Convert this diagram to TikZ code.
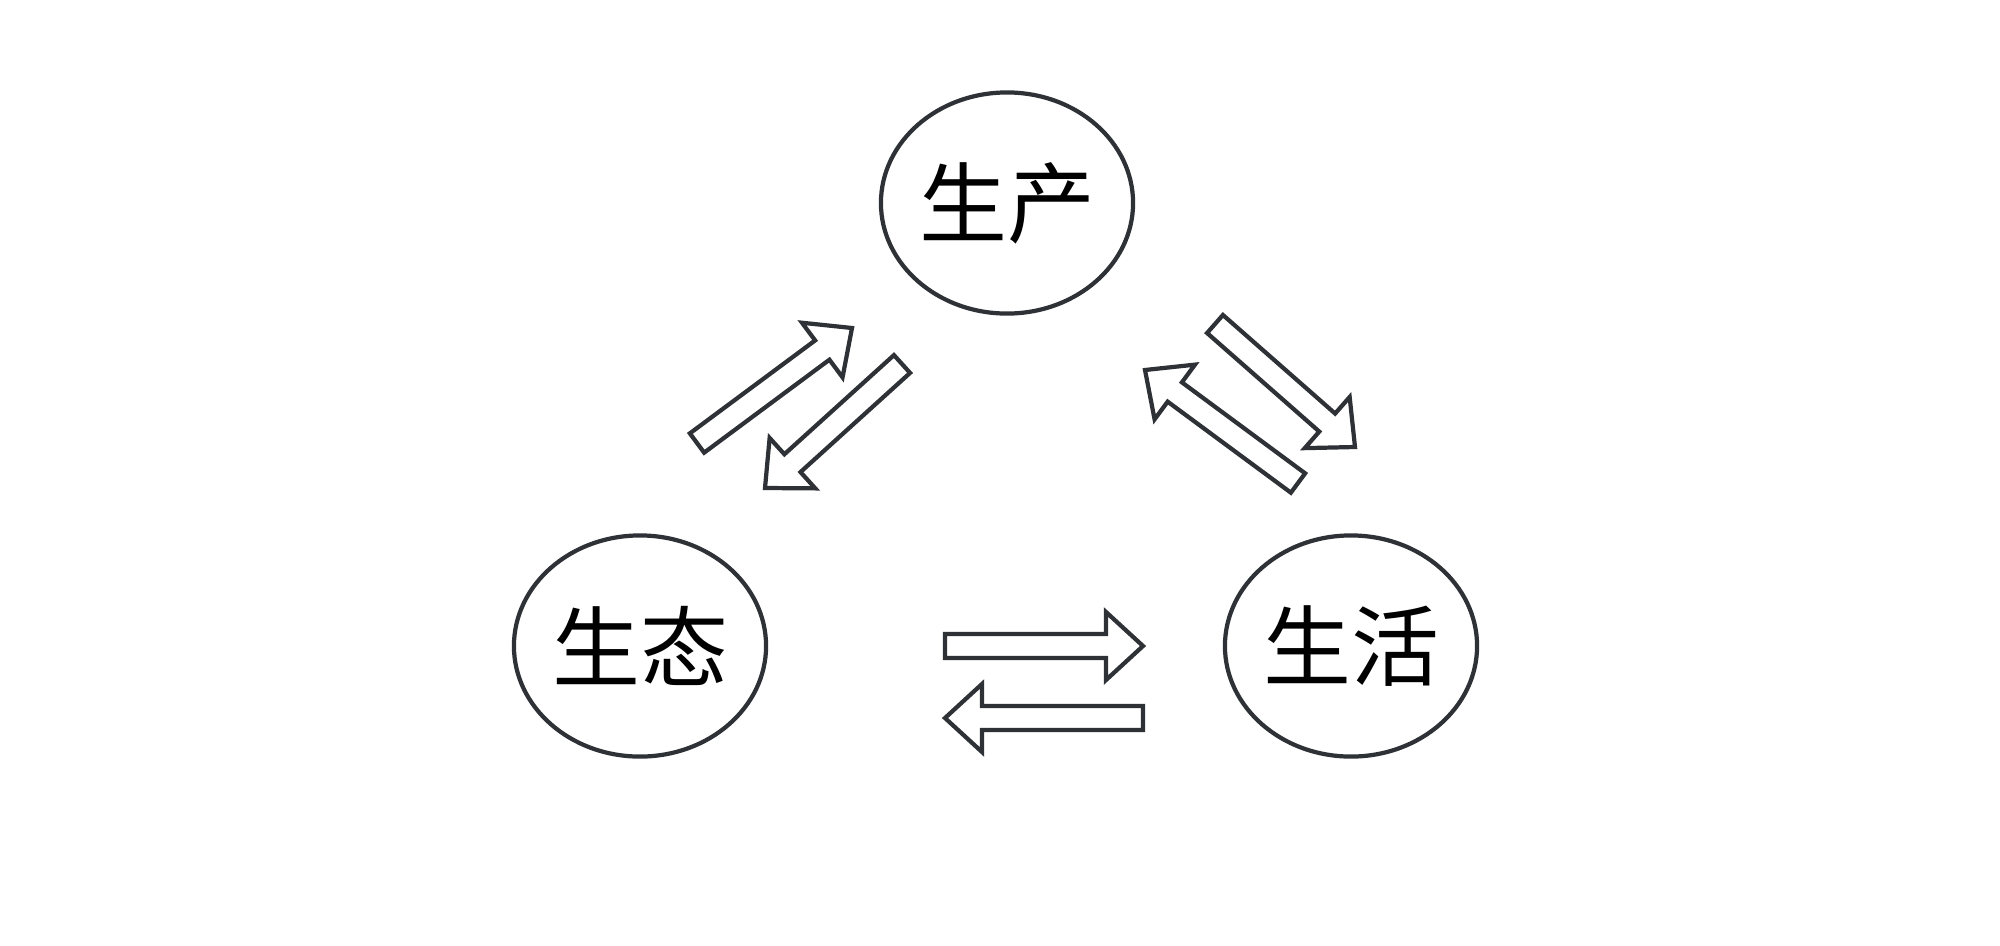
\documentclass[tikz,border=0pt]{standalone}
\usepackage{fontspec}
\newfontfamily\cjk{Noto Sans CJK SC}
\usetikzlibrary{shapes.geometric,calc}
\definecolor{ink}{HTML}{2E3135}
\tikzset{
  circ/.style={ellipse, draw=ink, line width=1.2pt, minimum width=2.52cm, minimum height=2.21cm, inner sep=0pt, font=\cjk\fontsize{25pt}{25pt}\selectfont},
  arrowbox/.style={draw=ink, line width=1.2pt, line join=miter, fill=white}
}
\newcommand\sw{0.12cm}
\newcommand\hw{0.34cm}
\newcommand\hl{0.37cm}
\newcommand\blockarrow[2]{%
  \coordinate (ba-h) at ($(#2)!\hl!(#1)$);
  \draw[arrowbox] ($(#1)!\sw!90:(#2)$) -- ($(ba-h)!\sw!-90:(#1)$) -- ($(ba-h)!\hw!-90:(#1)$) -- (#2) -- ($(ba-h)!\hw!90:(#1)$) -- ($(ba-h)!\sw!90:(#1)$) -- ($(#1)!\sw!-90:(#2)$) -- cycle;}
\begin{document}
\begin{tikzpicture}[x=0.01cm,y=-0.01cm]
\useasboundingbox[fill=white] (0,0) rectangle (2000,945);
\node[circ] (prod) at (1007,203) {生产};
\node[circ] (eco)  at (640,646)  {生态};
\node[circ] (life) at (1351,646) {生活};
% arrow end points
\coordinate (a1s) at (697,443);  \coordinate (a1e) at (852,328);
\coordinate (a2s) at (902,364);  \coordinate (a2e) at (765,488);
\coordinate (a3s) at (1215,324); \coordinate (a3e) at (1355,447);
\coordinate (a4s) at (1298,483); \coordinate (a4e) at (1145,370);
\coordinate (a5s) at (945,646);  \coordinate (a5e) at (1143,646);
\coordinate (a6s) at (1143,718); \coordinate (a6e) at (945,718);
\blockarrow{a1s}{a1e}
\blockarrow{a2s}{a2e}
\blockarrow{a3s}{a3e}
\blockarrow{a4s}{a4e}
\blockarrow{a5s}{a5e}
\blockarrow{a6s}{a6e}
\end{tikzpicture}
\end{document}
